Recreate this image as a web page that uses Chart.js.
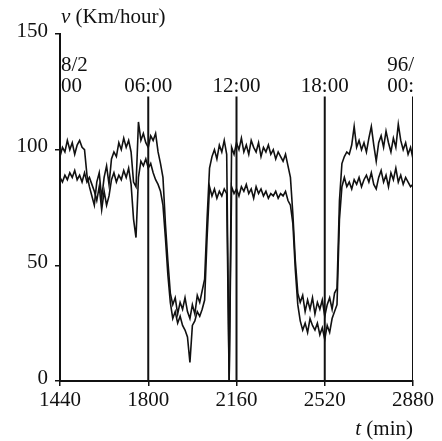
<!DOCTYPE html>
<html>
<head>
<meta charset="utf-8">
<title>v (Km/hour) vs t (min)</title>
<script src="https://cdn.jsdelivr.net/npm/chart.js@4/dist/chart.umd.min.js"></script>
<style>
  html, body { margin: 0; padding: 0; background: #fff; }
  #speedChart { display: block; }
</style>
</head>
<body>
<canvas id="speedChart" width="442" height="441"></canvas>
<script>
// Muestreo: un valor cada 10 minutos desde 1440 hasta 2880
const tStart = 1440;
const tStep = 10;

// Serie superior (velocidad, Km/hour)
const upperSpeed = [
  97, 101, 99, 104, 100, 103, 98, 102, 104, 101,
  100, 89, 84, 80, 76, 86, 90, 79, 88, 93,
  85, 96, 99, 97, 103, 100, 105, 101, 104, 99,
  86, 84, 112, 104, 107, 103, 101, 106, 104, 107,
  99, 94, 88, 68, 52, 38, 33, 36, 29, 34,
  31, 36, 30, 27, 33, 29, 37, 34, 39, 44,
  70, 92, 97, 100, 96, 102, 99, 104, 98, 0,
  101, 98, 103, 100, 105, 99, 102, 98, 104, 101,
  99, 103, 97, 101, 99, 102, 98, 100, 96, 99,
  97, 95, 98, 93, 88, 72, 52, 38, 34, 37,
  30, 35, 31, 36, 29, 34, 31, 35, 28, 33,
  36, 31, 38, 40, 78, 94, 97, 99, 98, 102,
  110, 101, 104, 100, 103, 99, 105, 110, 102, 95,
  103, 106, 101, 108, 103, 99, 105, 101, 111, 104,
  100, 103, 98, 101, 96
];

// Serie inferior (velocidad, Km/hour)
const lowerSpeed = [
  88, 86, 89, 87, 90, 88, 91, 87, 89, 86,
  90, 86, 88, 85, 82, 78, 84, 74, 82, 76,
  80, 87, 90, 86, 89, 87, 91, 88, 92, 85,
  70, 62, 88, 95, 93, 96, 92, 94, 90, 87,
  85, 82, 76, 62, 46, 34, 27, 30, 25, 28,
  24, 22, 19, 8, 24, 26, 30, 28, 31, 35,
  62, 84, 80, 83, 79, 82, 80, 83, 81, 0,
  84, 81, 83, 80, 84, 82, 85, 81, 83, 79,
  84, 81, 83, 80, 82, 79, 81, 80, 82, 79,
  81, 80, 82, 78, 76, 68, 48, 33, 26, 22,
  25, 21, 27, 24, 22, 25, 20, 23, 18, 24,
  21, 27, 30, 33, 70, 84, 88, 84, 86, 83,
  87, 85, 88, 84, 87, 89, 86, 90, 85, 83,
  88, 91, 86, 89, 84, 90, 87, 92, 86, 89,
  85, 88, 86, 84, 85
];

// Marcas de hora (líneas verticales con su texto)
const markerTimes = [1440, 1800, 2160, 2520, 2880];
const markerTop = 123;
const markerDateLabels = ['8/2', '', '', '', '96/'];
const markerHourLabels = ['00', '06:00', '12:00', '18:00', '00:'];

// Ejes
const xTicks = [1440, 1800, 2160, 2520, 2880];
const yTicks = [0, 50, 100, 150];

const FONT = "'Liberation Serif', 'DejaVu Serif', serif";
const INK = '#111';

function toPoints(values) {
  return values.map((v, i) => ({ x: tStart + i * tStep, y: v }));
}

// Líneas verticales de las marcas (la de 1440 coincide con el eje)
const markerDatasets = markerTimes.slice(1).map(t => ({
  data: [{ x: t, y: 0 }, { x: t, y: markerTop }],
  borderColor: INK,
  borderWidth: 2,
  pointRadius: 0,
  fill: false
}));

// Texto con una primera parte en cursiva (v, t)
function drawTitle(ctx, italicPart, rest, x, y, align) {
  ctx.font = `italic 21px ${FONT}`;
  const w1 = ctx.measureText(italicPart).width;
  ctx.font = `21px ${FONT}`;
  const w2 = ctx.measureText(rest).width;
  const left = align === 'right' ? x - w1 - w2 : x;
  ctx.textAlign = 'left';
  ctx.font = `italic 21px ${FONT}`;
  ctx.fillText(italicPart, left, y);
  ctx.font = `21px ${FONT}`;
  ctx.fillText(rest, left + w1, y);
}

// Textos: títulos de ejes, etiquetas de las marcas
const annotationsPlugin = {
  id: 'annotations',
  afterDraw(chart) {
    const { ctx, scales: { x, y } } = chart;
    ctx.save();
    ctx.fillStyle = INK;
    ctx.textBaseline = 'alphabetic';

    drawTitle(ctx, 'v', ' (Km/hour)', x.getPixelForValue(1440) + 1, y.getPixelForValue(150) - 11, 'left');
    drawTitle(ctx, 't', ' (min)', x.getPixelForValue(2880), chart.height - 6, 'right');

    // etiquetas de las marcas
    const baseHour = y.getPixelForValue(markerTop) - 4;
    const baseDate = baseHour - 21;
    ctx.font = `21px ${FONT}`;
    markerTimes.forEach((t, i) => {
      const px = x.getPixelForValue(t);
      let align = 'center';
      let dx = 0;
      if (i === 0) { align = 'left'; dx = 1; }
      if (i === markerTimes.length - 1) { align = 'right'; dx = 1; }
      ctx.textAlign = align;
      if (markerDateLabels[i]) ctx.fillText(markerDateLabels[i], px + dx, baseDate);
      ctx.fillText(markerHourLabels[i], px + dx, baseHour);
    });
    ctx.restore();
  }
};

const ctx = document.getElementById('speedChart').getContext('2d');
new Chart(ctx, {
  type: 'line',
  data: {
    datasets: [
      {
        label: 'upper',
        data: toPoints(upperSpeed),
        borderColor: INK,
        borderWidth: 1.6,
        pointRadius: 0,
        fill: false
      },
      {
        label: 'lower',
        data: toPoints(lowerSpeed),
        borderColor: INK,
        borderWidth: 1.6,
        pointRadius: 0,
        fill: false
      },
      ...markerDatasets
    ]
  },
  options: {
    responsive: false,
    animation: false,
    events: [],
    layout: {
      padding: { top: 34, right: 29, left: 0, bottom: 0 }
    },
    plugins: {
      legend: { display: false },
      tooltip: { enabled: false }
    },
    scales: {
      x: {
        type: 'linear',
        min: 1440,
        max: 2880,
        afterBuildTicks: axis => { axis.ticks = xTicks.map(v => ({ value: v })); },
        afterFit: axis => { axis.height = 60; },
        grid: {
          drawOnChartArea: false,
          drawTicks: true,
          tickLength: 5,
          lineWidth: 1.5,
          color: INK
        },
        border: { display: true, color: INK, width: 2 },
        ticks: {
          color: INK,
          padding: 2,
          maxRotation: 0,
          font: { family: FONT, size: 21 },
          callback: value => String(value)
        }
      },
      y: {
        type: 'linear',
        min: 0,
        max: 150,
        afterBuildTicks: axis => { axis.ticks = yTicks.map(v => ({ value: v })); },
        afterFit: axis => { axis.width = 60; },
        grid: {
          drawOnChartArea: false,
          drawTicks: true,
          tickLength: 5,
          lineWidth: 1.5,
          color: INK
        },
        border: { display: true, color: INK, width: 2 },
        ticks: {
          color: INK,
          padding: 7,
          labelOffset: -3,
          font: { family: FONT, size: 21 },
          callback: value => String(value)
        }
      }
    }
  },
  plugins: [annotationsPlugin]
});
</script>
</body>
</html>
